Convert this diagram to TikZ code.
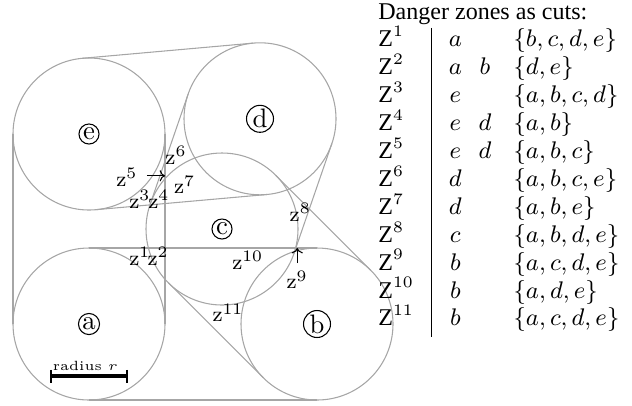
\documentclass[tikz,border=0pt]{standalone}
\usepackage{fontspec}
\newfontfamily\timesf{Liberation Serif}
\usetikzlibrary{calc,arrows.meta}
\begin{document}
\begin{tikzpicture}[
  hull/.style={draw=black!35, line width=0.4pt},
  disk/.style={circle, draw=black!35, line width=0.4pt, minimum size=2cm, inner sep=0pt, outer sep=0pt},
  circ/.style={circle, draw, inner sep=0.4pt, line width=0.4pt, font=\normalsize},
  zl/.style={inner sep=0pt, font=\footnotesize},
  pt/.style={-{To[length=2pt]}, line width=0.4pt},
  tz/.style={anchor=base west, inner sep=0pt, font=\small\timesf},
  tc/.style={anchor=base, inner sep=0pt, font=\small},
  ts/.style={anchor=base west, inner sep=0pt, font=\small},
]
\useasboundingbox (-1.1711,-1.0658) rectangle (7.1447,4.2632);
% disks
\node[disk] (a) at (0,0) {};
\node[disk] (b) at (3,0) {};
\node[disk] (c) at (1.75,1.25) {};
\node[disk] (d) at (2.25,2.7) {};
\node[disk] (e) at (0,2.5) {};
% tangent segments of the pairwise hulls
\foreach \p/\q in {a/b,a/e,e/d,d/c,c/b}{
  \draw[hull] ($(\p.center)!1cm!90:(\q.center)$) -- ($(\q.center)!1cm!-90:(\p.center)$);
  \draw[hull] ($(\p.center)!1cm!-90:(\q.center)$) -- ($(\q.center)!1cm!90:(\p.center)$);
}
% circled names
\node[circ] (la) at (a.center) {a};
\node[circ] (lb) at (b.center) {b};
\node[circ] (lc) at (c.center) {c};
\node[circ] (ld) at (d.center) {d};
\node[circ] (le) at (e.center) {e};
% zone labels
\node[zl] (z1) at (0.67,0.89) {$\mathrm{z}^{1}$};
\node[zl] (z2) at (0.91,0.89) {$\mathrm{z}^{2}$};
\node[zl] (z3) at (0.67,1.64) {$\mathrm{z}^{3}$};
\node[zl] (z4) at (0.92,1.64) {$\mathrm{z}^{4}$};
\node[zl] (z5) at (0.50,1.93) {$\mathrm{z}^{5}$};
\node[zl] (z6) at (1.145,2.22) {$\mathrm{z}^{6}$};
\node[zl] (z7) at (1.26,1.83) {$\mathrm{z}^{7}$};
\node[zl] (z8) at (2.78,1.47) {$\mathrm{z}^{8}$};
\node[zl] (z9) at (2.74,0.58) {$\mathrm{z}^{9}$};
\node[zl] (z10) at (2.09,0.84) {$\mathrm{z}^{10}$};
\node[zl] (z11) at (1.83,0.145) {$\mathrm{z}^{11}$};
% pointer arrows
\coordinate (p5) at (0.76,1.95);
\coordinate (q5) at (1,1.95);
\draw[pt] (p5) -- (q5);
\coordinate (p9) at (2.74,0.80);
\coordinate (q9) at (2.74,1);
\draw[pt] (p9) -- (q9);
% scale bar
\node[inner sep=0pt, font=\tiny] (rad) at (-0.05,-0.55) {radius $r$};
\draw[line width=1.8pt] (-0.5,-0.684) -- (0.5,-0.684);
\draw[line width=0.4pt] (-0.5,-0.605) -- (-0.5,-0.776);
\draw[line width=0.4pt] (0.5,-0.605) -- (0.5,-0.776);
% table
\node[anchor=base west, inner sep=0pt, font=\small\timesf] (hd) at (3.80,4.013) {Danger zones as cuts:};
\foreach \k/\u/\s in {1/a/{b,c,d,e}, 2/a/{d,e}, 3/e/{a,b,c,d}, 4/e/{a,b}, 5/e/{a,b,c},
  6/d/{a,b,c,e}, 7/d/{a,b,e}, 8/c/{a,b,d,e}, 9/b/{a,c,d,e}, 10/b/{a,d,e}, 11/b/{a,c,d,e}}{
  \pgfmathsetmacro\yy{3.645-0.367*(\k-1)}
  \node[tz] (Z\k) at (3.80,\yy) {Z$^{\k}$};
  \node[tc] (U\k) at (4.82,\yy) {$\u$};
  \node[ts] (S\k) at (5.58,\yy) {$\{\s\}$};
}
\node[tc] (V2) at (5.21,3.278) {$b$};
\node[tc] (V4) at (5.21,2.543) {$d$};
\node[tc] (V5) at (5.21,2.176) {$d$};
\draw[line width=0.4pt] (4.51,3.895) -- (4.51,-0.171);
\end{tikzpicture}
\end{document}
